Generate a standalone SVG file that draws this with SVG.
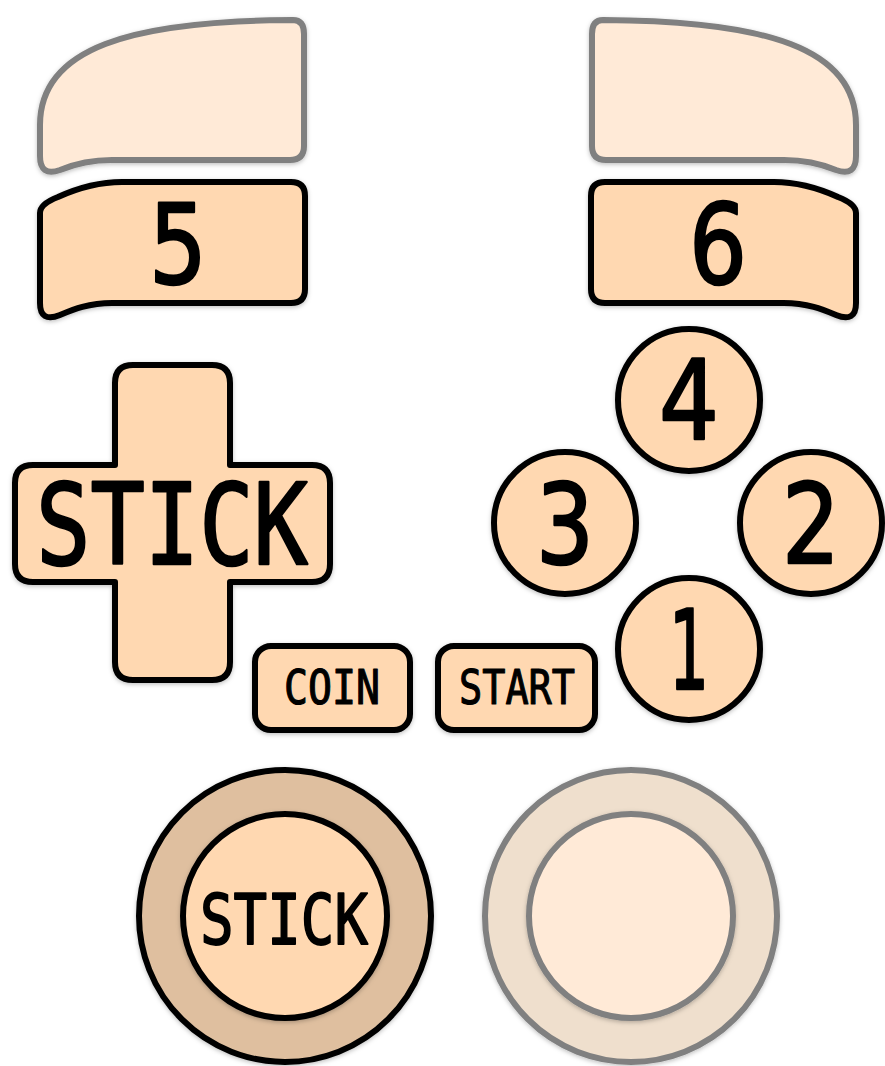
<svg xmlns="http://www.w3.org/2000/svg" width="885" height="1066" viewBox="0 0 885 1066">
<defs>
<filter id="sh" x="-10%" y="-10%" width="120%" height="120%">
<feDropShadow dx="0" dy="1.5" stdDeviation="2" flood-color="#000" flood-opacity="0.25"/>
</filter>
<path id="shoulderTop" d="M 293,20 Q 304,20 304,34 L 304,146 Q 304,160 290,160 L 112,160 C 88,160 72,165 60,170 Q 40,177 40,156 L 40,125 C 40,48 130,21 293,20 Z"/>
<path id="shoulderBtn" d="M 58,197 C 80,187 100,182 122,182 L 291,182 Q 305,182 305,196 L 305,289 Q 305,303 291,303 L 112,303 C 88,303 72,310 60,315 Q 40,323 40,303 L 40,213 Q 40,204 58,197 Z"/>
</defs>
<style>
.on{fill:#FFD8B1;stroke:#000;stroke-width:6;stroke-linejoin:round;filter:url(#sh)}
.off{fill:#FFEAD7;stroke:#808080;stroke-width:6;stroke-linejoin:round;filter:url(#sh)}
.lbl{font-family:"DejaVu Sans Mono","Liberation Mono",monospace;font-weight:normal;fill:#000;stroke:#000;stroke-width:2.5;stroke-linejoin:round;stroke-linecap:round;text-anchor:middle}
.num{font-family:"DejaVu Sans","Liberation Sans",sans-serif}
</style>
<rect width="885" height="1066" fill="#fff"/>
<g id="l2"><use href="#shoulderTop" class="off"/></g>
<g id="r2"><use href="#shoulderTop" class="off" transform="translate(896,0) scale(-1,1)"/></g>
<g id="btn5"><use href="#shoulderBtn" class="on"/>
<text class="lbl num" x="178" y="283" font-size="110" textLength="58" lengthAdjust="spacingAndGlyphs">5</text></g>
<g id="btn6"><use href="#shoulderBtn" class="on" transform="translate(896,0) scale(-1,1)"/>
<text class="lbl num" x="718" y="283" font-size="110" textLength="58" lengthAdjust="spacingAndGlyphs">6</text></g>
<g id="dpad"><path class="on" d="M 133,365 L 212,365 Q 230,365 230,383 L 230,465 L 312,465 Q 330,465 330,483 L 330,564 Q 330,582 312,582 L 230,582 L 230,662 Q 230,680 212,680 L 133,680 Q 115,680 115,662 L 115,582 L 33,582 Q 15,582 15,564 L 15,483 Q 15,465 33,465 L 115,465 L 115,383 Q 115,365 133,365 Z"/>
<text class="lbl" x="172" y="564" font-size="113" textLength="272" lengthAdjust="spacingAndGlyphs">STICK</text></g>
<g id="btn4"><circle class="on" cx="689" cy="400" r="71"/><text class="lbl num" x="689" y="439" font-size="110" textLength="60" lengthAdjust="spacingAndGlyphs">4</text></g>
<g id="btn3"><circle class="on" cx="565" cy="523" r="71"/><text class="lbl num" x="565" y="563" font-size="110" textLength="58" lengthAdjust="spacingAndGlyphs">3</text></g>
<g id="btn2"><circle class="on" cx="811" cy="523" r="71"/><text class="lbl num" x="811" y="563" font-size="110" textLength="58" lengthAdjust="spacingAndGlyphs">2</text></g>
<g id="btn1"><circle class="on" cx="689" cy="649" r="71"/><text class="lbl num" x="689" y="689" font-size="110" textLength="40" lengthAdjust="spacingAndGlyphs">1</text></g>
<g id="coin"><rect class="on" x="255" y="646" width="155" height="84" rx="16"/>
<text class="lbl" x="332" y="704" font-size="48" textLength="96" lengthAdjust="spacingAndGlyphs" style="stroke-width:1.2">COIN</text></g>
<g id="start"><rect class="on" x="438" y="646" width="157" height="84" rx="16"/>
<text class="lbl" x="517" y="704" font-size="48" textLength="116" lengthAdjust="spacingAndGlyphs" style="stroke-width:1.2">START</text></g>
<g id="lstick"><circle class="on" cx="285" cy="916" r="146" style="fill:#DFBF9F"/>
<circle class="on" cx="285" cy="916" r="102"/>
<text class="lbl" x="284" y="944" font-size="70" textLength="168" lengthAdjust="spacingAndGlyphs" style="stroke-width:1.8">STICK</text></g>
<g id="rstick"><circle class="off" cx="631" cy="916" r="146" style="fill:#EFDFCD"/>
<circle class="off" cx="631" cy="916" r="102"/></g>
<g id="connectors"/>
</svg>
